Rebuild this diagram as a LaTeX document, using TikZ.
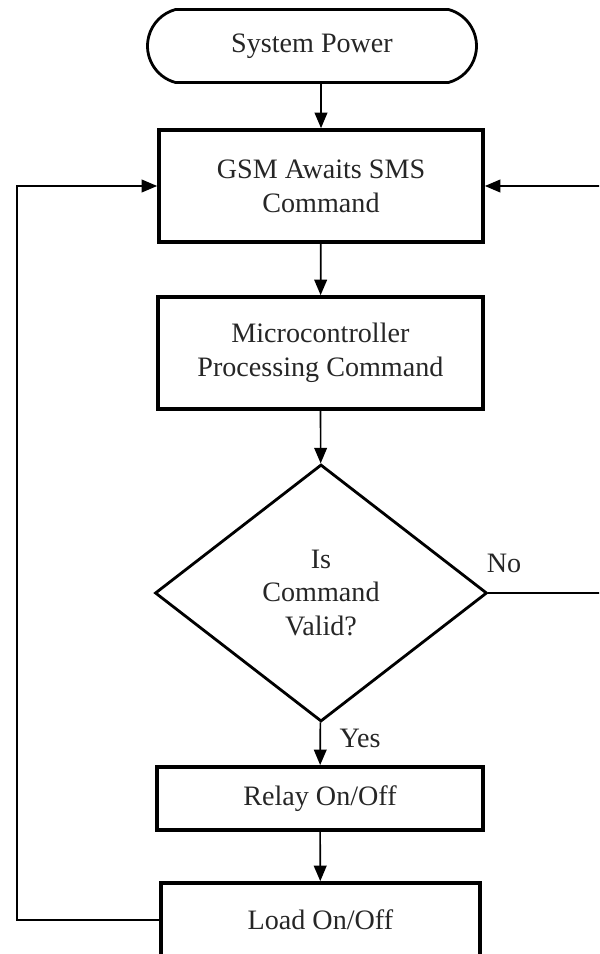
\documentclass[tikz,border=0pt]{standalone}
\usepackage{fontspec}
\setmainfont{Liberation Serif}
\usetikzlibrary{arrows.meta,positioning,shapes.geometric,shapes.misc}

\begin{document}
\begin{tikzpicture}[>={Triangle[length=11pt,width=9pt]},
 font=\fontsize{20}{24}\selectfont,
 term/.style={draw,rounded rectangle,rounded rectangle arc length=150,line width=2pt,text=black!85,minimum width=8.225cm,minimum height=1.825cm,inner sep=0pt},
 proc/.style={draw,rectangle,line width=2.6pt,align=center,text=black!85,inner sep=0pt},
 decision/.style={draw,diamond,line width=2pt,align=center,text=black!85,minimum width=8.3cm,minimum height=6.425cm,inner sep=0pt},
 lb/.style={text=black!85},
 arr/.style={->,line width=1.2pt}]
\useasboundingbox (0,0) rectangle (14.975,-23.85);
\clip (0,0) rectangle (14.975,-23.85);
\node[term] (pwr) at (7.8,-1.15) {System Power};
\node[proc,minimum width=8.1cm,minimum height=2.8cm] (gsm) at (8.025,-4.65) {GSM Awaits SMS\\Command};
\node[proc,minimum width=8.125cm,minimum height=2.8cm] (mcu) at (8.01,-8.825) {Microcontroller\\Processing Command};
\node[decision] (dec) at (8.025,-14.825) {Is\\Command\\Valid?};
\node[proc,minimum width=8.15cm,minimum height=1.575cm] (rly) at (8.0,-19.96) {Relay On/Off};
\node[proc,minimum width=7.975cm,minimum height=1.85cm] (ld) at (8.01,-23.0) {Load On/Off};
\node[lb] at (12.6,-14.08) {No};
\node[lb] at (9.0,-18.45) {Yes};
\coordinate (lt) at (0.425,-15);
\coordinate (rt) at (15.3,-10);
\draw[arr] (pwr.south -| gsm.north) -- (gsm.north);
\draw[arr] (gsm) -- (mcu);
\draw[arr] (mcu) -- (dec);
\draw[arr] (dec) -- (rly);
\draw[arr] (rly) -- (ld);
\draw[arr] (ld.west) -| (lt) |- (gsm.west);
\draw[arr] (dec.east) -| (rt) |- (gsm.east);
\end{tikzpicture}
\end{document}
